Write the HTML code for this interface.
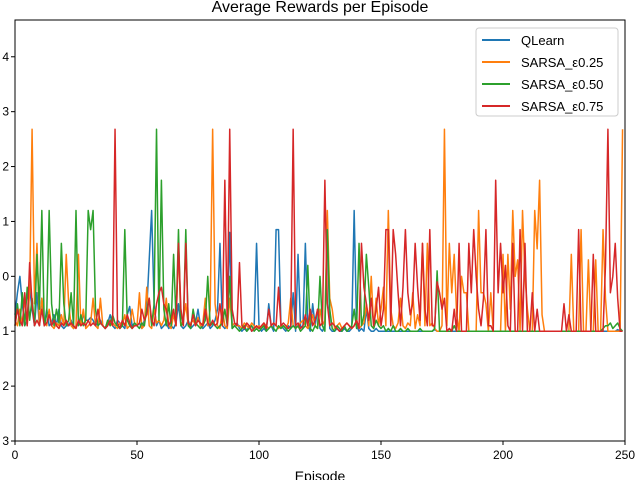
<!DOCTYPE html>
<html><head><meta charset="utf-8">
<style>
html,body{margin:0;padding:0;background:#fff;}
svg{display:block;font-family:"Liberation Sans","DejaVu Sans",sans-serif;}
</style></head>
<body>
<svg id="chart" width="640" height="480">
<text x="320" y="12" font-size="16" text-anchor="middle">Average Rewards per Episode</text>
<text x="320" y="481" font-size="14" text-anchor="middle">Episode</text>
<g id="axes"></g>
<g id="series"></g>
<rect x="15" y="20" width="610" height="421" fill="none" stroke="#000" stroke-width="1"/>
<g id="legend"></g>
</svg>
<script>
const seriesNames = ["QLearn","SARSA_ε0.25","SARSA_ε0.50","SARSA_ε0.75"];
const seriesColors = ["#1f77b4","#ff7f0e","#2ca02c","#d62728"];
const xTicks = [0,50,100,150,200,250];
const yTicks = [4,3,2,1,0,-1,-2,-3];
const yTickLabels = ["4","3","2","1","0","1","2","3"];
const qlearn = [-0.7,-0.3,0,-0.5,-0.9,-0.8,-0.2,-0.6,-0.9,-0.3,
-0.9,-0.4,-0.9,-0.6,-0.9,-0.85,-0.7,-0.9,-0.6,-0.9,
-0.95,-0.9,-0.9,-0.8,-0.95,-0.9,-0.85,-0.9,-0.7,-0.8,
-0.8,-0.75,-0.8,-0.9,-0.85,-0.8,-0.9,-0.95,-0.85,-0.7,
-0.9,-0.95,-0.8,-0.85,-0.9,-0.95,-0.7,-0.55,-0.9,-0.85,
-0.9,-0.85,-0.95,-0.8,-0.6,0.3,1.2,-0.5,-0.9,-0.8,
-0.95,-0.9,-0.85,-0.95,-0.9,-0.95,-0.85,-0.5,-0.9,-0.95,
-0.9,-0.8,-0.95,-0.9,-0.85,-0.6,-0.9,-0.95,-0.9,-0.85,
-0.95,-0.9,-0.8,-0.6,0.6,-0.9,-0.95,-0.9,0.8,-0.95,
-0.9,-0.85,-0.95,-1,-0.95,-1,-0.9,-1,-0.95,0.6,
-0.9,-1,-0.95,-1,-0.5,-0.9,-1,0.85,0.85,-0.9,
-0.95,-1,-0.9,-0.95,-0.3,-1,0.4,-0.9,-0.95,0.6,
-0.9,-1,-0.5,-0.9,-0.6,-0.95,-1,-0.9,1.0,-0.95,
-1,-1,-0.95,-1,-1,-0.95,-1,-1,-0.95,1.2,
-0.9,-1,-0.95,-1,-0.6,-0.95,-1,-1,-0.95,-1,
-1,-1,-1,-1,-1,-1,-1,-1,-1,-1,
-1,-1,-1,-1,-1,-1,-1,-1,-1,-1,
-1,-1,-0.97,-1,-1,-1,-1,-1,-1,-1,
-1,-1,-1,-1,-1,-1,-1,-1,-1,-1,
-1,-1,-1,-1,-1,-1,-1,-1,-1,-1,
-1,-1,-1,-1,-1,-1,-1,-1,-1,-1,
-1,-1,-1,-1,-1,-1,-1,-1,-1,-1,
-1,-1,-1,-1,-1,-1,-1,-1,-1,-1,
-1,-1,-1,-1,-1,-1,-1,-1,-1,-1,
-1,-1,-1,-1,-1,-1,-1,-0.97,-1,-1];
const sarsa25 = [-0.8,-0.9,-0.6,-0.9,-0.4,-0.9,-0.3,2.68,-0.5,0.6,
-0.9,-0.4,-0.8,-0.9,-0.6,-0.9,-0.95,-0.85,-0.9,-0.7,
-0.9,0.4,-0.5,-0.9,-0.95,-0.9,0.4,-0.9,-0.6,-0.95,
-0.9,-0.85,-0.4,-0.9,-0.95,-0.4,-0.9,-0.95,-0.8,-0.9,
-0.85,-0.9,-0.95,-0.85,-0.9,-0.7,-0.95,-0.9,-0.6,-0.85,
-0.9,-0.3,-0.95,-0.9,-0.2,-0.9,-0.95,-0.6,-0.85,-0.8,
-0.9,-0.8,-0.4,-0.9,-0.95,-0.7,-0.9,0.6,-0.9,-0.8,
-0.5,-0.9,-0.85,-0.8,-0.9,-0.75,-0.9,-0.85,-0.4,-0.9,
-0.6,2.68,-0.5,-0.9,-0.95,-0.6,-0.9,-0.95,-0.4,-0.9,
-0.85,-0.9,-0.9,-0.95,-0.85,-0.9,-0.95,-0.85,-0.9,-0.95,
-0.9,-0.95,-0.85,-0.9,-0.95,-0.9,-0.85,-0.9,-0.95,-0.9,
-0.9,-0.95,-0.85,-0.4,-0.9,-0.95,-0.9,-0.85,-0.8,-0.9,
-0.95,-0.85,-0.7,-0.9,-0.95,-0.6,-0.9,-0.8,1.2,-0.4,
-0.6,-0.95,-0.9,-0.85,-0.95,-0.9,-0.85,-0.9,-0.95,-0.9,
-0.8,-0.95,-0.9,-0.85,-0.5,-0.9,0.0,-0.95,-0.4,-0.9,
-0.6,-0.2,-0.9,1.2,-0.6,-0.9,-0.95,-0.85,-0.4,-0.9,
-0.95,-0.85,-0.9,-0.3,-0.95,-0.7,-0.9,0.6,-0.9,0.6,
-0.9,-0.85,-0.95,-1,-1,-0.9,2.68,-0.9,0.6,-0.3,
0.4,-0.7,-1,0.0,-0.3,-0.3,-1,-1,-1,-1,
1.2,-0.3,-0.3,-0.5,-1,-0.3,-1,-1,-1,-1,
0.4,-1,0.4,-0.6,1.2,0.0,0.3,-1,1.2,0.0,
-0.6,-1,-1,1.2,0.5,1.75,-0.7,-1,-1,-1,
-1,-1,-1,-1,-1,-1,-1,-1,0.4,-1,
-1,-1,0.85,-1,-1,0.3,-1,-1,0.3,-1,
-1,0.85,-0.4,-1,-1,-1,-1,-1,-1,2.68];
const sarsa50 = [-0.9,-0.5,-0.9,-0.3,-0.9,-0.2,-0.8,-0.4,-0.9,0.4,
-0.6,1.2,-0.9,-0.7,1.2,-0.5,-0.9,-0.6,-0.85,0.6,
-0.5,-0.9,-0.8,-0.3,-0.9,1.2,-0.9,-0.7,-0.9,-0.8,
1.2,0.85,1.2,-0.6,-0.9,-0.85,-0.9,-0.95,-0.8,-0.9,
-0.7,-0.85,-0.9,-0.95,-0.9,0.85,-0.8,-0.9,-0.95,-0.85,
-0.9,-0.95,-0.85,-0.9,-0.6,-0.4,-0.9,-0.5,2.68,-0.8,
1.75,-0.6,-0.9,-0.5,-0.9,0.4,-0.8,0.85,-0.9,-0.85,
0.85,-0.9,-0.95,-0.6,-0.85,-0.9,-0.95,-0.9,-0.8,0.0,
-0.9,-0.85,-0.9,-0.95,-0.9,-0.85,-0.6,-0.9,0.0,-0.95,
-0.9,-0.95,-1,-0.95,-0.9,-1,-0.95,-0.9,-1,-0.95,
-1,-0.95,-0.9,-1,-0.95,-0.9,-0.95,-1,-0.9,-0.95,
-0.9,-0.95,-1,-0.95,-0.9,-0.95,-0.9,-1,-0.95,-0.9,
0.2,-0.95,-1,-0.9,-0.95,0.0,-0.9,-1,0.85,-0.6,
-0.95,-1,-0.9,-0.95,-1,-0.9,-1,-0.95,-0.9,-0.6,
-0.95,0.6,-0.9,-0.7,0.4,-0.2,-0.9,-0.95,-0.8,-0.9,
-0.95,-0.9,-1,-0.95,-1,-0.9,-1,-1,-0.95,-1,
-1,-0.95,-1,-1,-1,-1,-0.95,-1,-1,-1,
-1,-1,-0.95,0.1,-1,-1,-1,-1,-1,-1,
-0.9,-1,-1,-1,-1,-1,-1,-1,-1,-1,
-1,-1,-1,-1,-1,-1,-1,-1,-1,-1,
-1,-1,-1,-1,-1,-1,-1,-1,-1,-1,
-1,-1,-1,-1,-1,-1,-1,-1,-1,-1,
-1,-1,-1,-1,-1,-1,-1,-1,-1,-1,
-1,-1,-1,-1,-1,-1,-1,-1,-1,-1,
-1,-0.95,-0.9,-0.9,-0.85,-0.95,-0.9,-0.85,-0.95,-1];
const sarsa75 = [-0.9,-0.6,-0.8,-0.9,-0.3,-0.9,0.25,-0.5,-0.9,-0.8,
-0.9,-0.6,-0.9,-0.85,-0.7,-0.9,-0.8,-0.9,-0.95,-0.85,
-0.9,-0.8,-0.9,-0.85,-0.9,-0.95,-0.8,-0.9,-0.85,-0.9,
-0.8,-0.9,-0.85,-0.9,-0.6,-0.85,-0.9,-0.95,-0.9,-0.8,
-0.9,2.68,-0.85,-0.95,-0.8,-0.9,-0.7,-0.85,-0.95,-0.9,
-0.9,-0.85,-0.6,-0.8,-0.7,-0.4,-0.8,-0.9,-0.5,-0.3,
-0.2,-0.5,-0.6,-0.9,-0.8,-0.6,-0.9,0.6,-0.6,-0.9,
0.6,-0.85,-0.9,-0.7,-0.9,-0.8,-0.85,-0.9,-0.6,-0.85,
-0.9,-0.8,-0.9,-0.85,-0.5,-0.9,1.75,-0.9,2.68,-0.6,
-0.85,-0.9,0.25,-0.9,-0.95,-0.85,-0.9,-1,-0.95,-0.9,
-0.95,-0.9,-0.85,-0.95,-0.6,-0.9,-0.85,-0.9,-0.2,-0.9,
-0.85,-0.9,-0.95,-0.9,2.68,-0.9,-0.85,-0.95,-0.9,-0.7,
-0.9,-0.6,-0.9,-0.8,-0.6,-0.9,-0.85,1.75,-0.5,-0.9,
-0.85,-0.9,-0.95,-1,-0.95,-0.9,-0.85,-0.9,-0.95,-0.9,
-0.8,-0.95,0.6,-0.2,-0.5,-0.8,-0.4,-0.9,-0.6,-0.2,
-0.9,-0.6,0.85,0.85,-0.9,0.85,0.4,-0.3,-0.9,-0.2,
0.85,-0.3,-0.7,-0.5,0.6,-0.2,-0.8,0.6,-0.6,-0.9,
0.85,-0.9,-0.9,-0.1,-0.3,-0.6,-0.4,-1,-0.95,-1,
-0.6,-1,0.6,-1,-1,-1,0.6,-0.3,0.85,0.0,
-0.6,-0.9,-0.4,0.85,-0.9,-0.9,-1,1.75,-0.3,0.6,
-0.3,0.2,-0.9,-1,0.6,-1,-1,0.85,-1,0.6,
-1,-1,-0.3,-1,-0.6,-1,-1,-1,-1,-1,
-1,-1,-1,-1,-1,-0.5,-1,-0.7,-1,-1,
-1,0.85,-1,-1,-1,-1,-1,0.4,-1,-1,
-1,-1,0.2,2.68,-0.3,0.0,0.6,-0.4,-1,-1];
const allSeries = [qlearn, sarsa25, sarsa50, sarsa75];

const X0=15, X1=625, Y0=441, Y1=20, XMIN=0, XMAX=250, YMIN=-3, YMAX=4.67;
const xScale = v => X0 + (v-XMIN)/(XMAX-XMIN)*(X1-X0);
const yScale = v => Y0 - (v-YMIN)/(YMAX-YMIN)*(Y0-Y1);
const NS="http://www.w3.org/2000/svg";
const axes=document.getElementById('axes');
xTicks.forEach(t=>{
  const x=xScale(t);
  const l=document.createElementNS(NS,'line');
  l.setAttribute('x1',x);l.setAttribute('x2',x);l.setAttribute('y1',Y0);l.setAttribute('y2',Y0+4);l.setAttribute('stroke','#000');
  
  
  axes.appendChild(l);
  const tx=document.createElementNS(NS,'text');
  tx.setAttribute('x',x);tx.setAttribute('y',Y0+18);tx.setAttribute('font-size','12');tx.setAttribute('text-anchor','middle');
  tx.textContent=t;
  
  
  axes.appendChild(tx);
});
yTicks.forEach((t,i)=>{
  const y=yScale(t);
  const l=document.createElementNS(NS,'line');
  l.setAttribute('x1',X0-4);l.setAttribute('x2',X0);l.setAttribute('y1',y);l.setAttribute('y2',y);l.setAttribute('stroke','#000');
  
  
  axes.appendChild(l);
  const tx=document.createElementNS(NS,'text');
  tx.setAttribute('x',X0-6);tx.setAttribute('y',y+4);tx.setAttribute('font-size','12');tx.setAttribute('text-anchor','end');
  tx.textContent=yTickLabels[i];
  
  
  axes.appendChild(tx);
});
const sg=document.getElementById('series');
allSeries.forEach((arr,si)=>{
  const pts=arr.map((v,i)=>xScale(i)+','+yScale(v)).join(' ');
  const p=document.createElementNS(NS,'polyline');
  p.setAttribute('points',pts);p.setAttribute('fill','none');p.setAttribute('stroke',seriesColors[si]);
  p.setAttribute('stroke-width','1.5');p.setAttribute('stroke-linejoin','round');
  
  
  sg.appendChild(p);
});
const lg=document.getElementById('legend');
const box=document.createElementNS(NS,'rect');
box.setAttribute('x',476);box.setAttribute('y',28);box.setAttribute('width',142);box.setAttribute('height',88);
box.setAttribute('rx',3);box.setAttribute('fill','#fff');box.setAttribute('fill-opacity','0.85');box.setAttribute('stroke','#ccc');


lg.appendChild(box);
seriesNames.forEach((n,i)=>{
  const y=40+i*22;
  const l=document.createElementNS(NS,'line');
  l.setAttribute('x1',482);l.setAttribute('x2',510);l.setAttribute('y1',y);l.setAttribute('y2',y);
  l.setAttribute('stroke',seriesColors[i]);l.setAttribute('stroke-width','2');
  
  
  lg.appendChild(l);
  const t=document.createElementNS(NS,'text');
  t.setAttribute('x',521);t.setAttribute('y',y+5);t.setAttribute('font-size','13');
  t.textContent=n;
  
  
  lg.appendChild(t);
});
</script>
</body></html>
